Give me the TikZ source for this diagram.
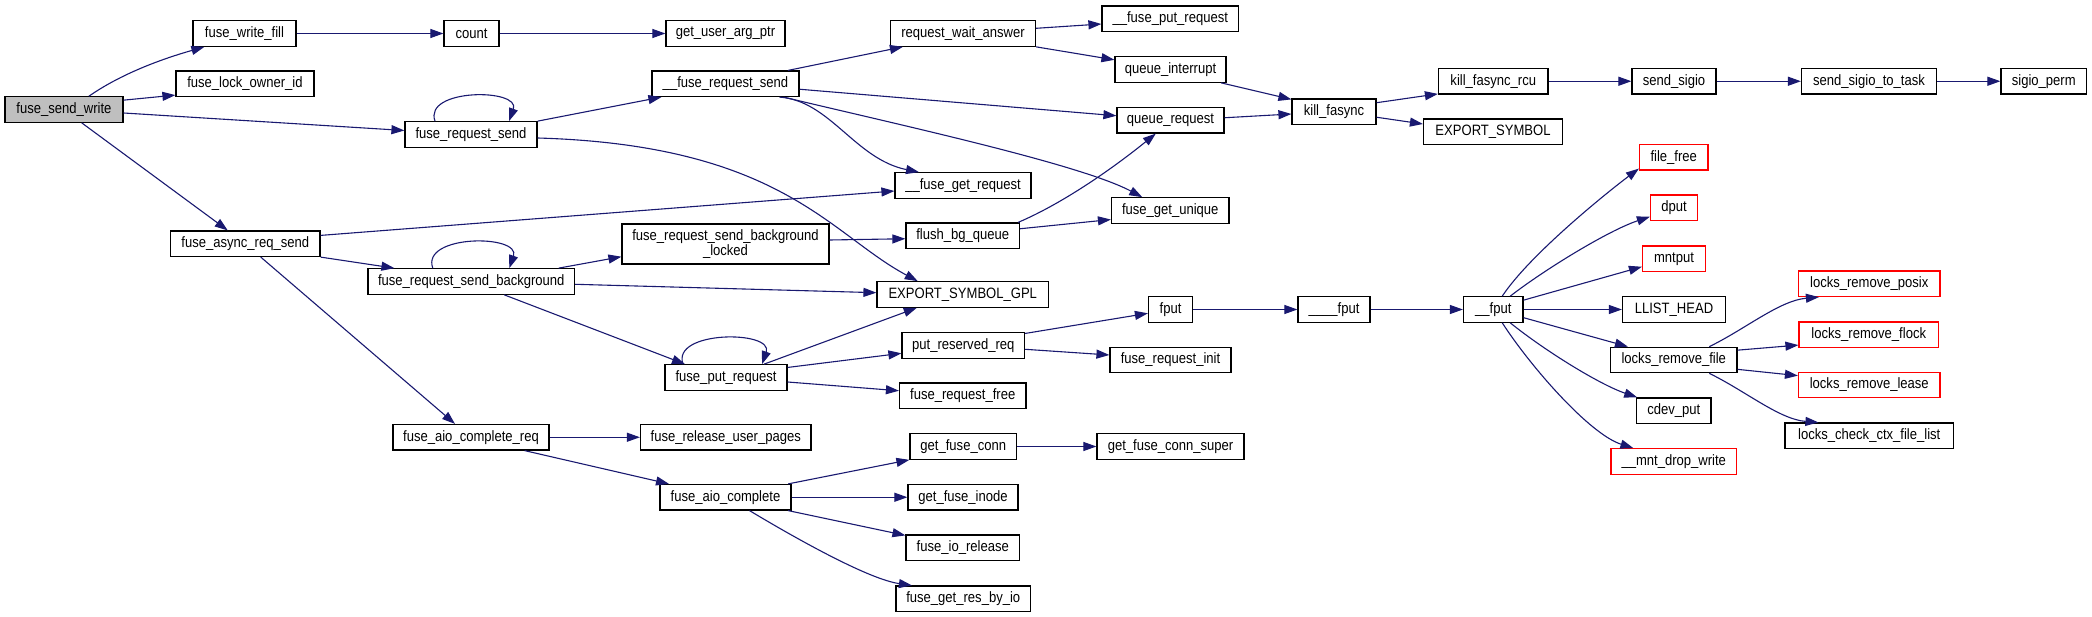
\documentclass[tikz,border=0pt]{standalone}
\usepackage{fontspec}
\setmainfont{Liberation Sans}
\usetikzlibrary{arrows.meta}
\definecolor{edgec}{HTML}{191970}
\definecolor{grayfill}{HTML}{BFBFBF}
\newcommand\tx[1]{\scalebox{0.87}[1]{#1}}
\tikzset{
 box/.style={draw=black, line width=1.2pt, fill=white, minimum height=25.5pt, inner sep=0pt, font=\fontsize{15}{14.5}\selectfont},
 redbox/.style={box, draw=red},
 edge/.style={draw=edgec, line width=1.1pt, -{Triangle[length=13pt,width=9pt]}},
}
\begin{document}
\begin{tikzpicture}[x=1pt,y=-1pt]
\useasboundingbox (0,0) rectangle (2092,617);
% column 1
\node[box, fill=grayfill, minimum width=118pt] (fsw) at (64,109.5) {\tx{fuse\_send\_write}};
% column 2
\node[box, minimum width=103pt] (fwf) at (244.5,33.5) {\tx{fuse\_write\_fill}};
\node[box, minimum width=138pt] (flo) at (245,83.75) {\tx{fuse\_lock\_owner\_id}};
\node[box, minimum width=149.5pt] (fars) at (245.25,243.75) {\tx{fuse\_async\_req\_send}};
% column 3
\node[box, minimum width=55pt] (cnt) at (471.5,33.5) {\tx{count}};
\node[box, minimum width=132pt] (frs) at (471,134.5) {\tx{fuse\_request\_send}};
\node[box, minimum width=206.5pt] (frsb) at (471.25,281.5) {\tx{fuse\_request\_send\_background}};
\node[box, minimum width=156pt] (facr) at (471,437.25) {\tx{fuse\_aio\_complete\_req}};
% column 4
\node[box, minimum width=119pt] (guap) at (725.5,33.5) {\tx{get\_user\_arg\_ptr}};
\node[box, minimum width=147pt] (ufrs) at (725.5,83.75) {\tx{\_\_fuse\_request\_send}};
\node[box, minimum width=207pt, minimum height=40pt, align=center] (frsbl) at (725.5,244) {\tx{fuse\_request\_send\_background}\\\tx{\_locked}};
\node[box, minimum width=122pt] (fpr) at (726,377.5) {\tx{fuse\_put\_request}};
\node[box, minimum width=170.5pt] (frup) at (725.75,437.25) {\tx{fuse\_release\_user\_pages}};
\node[box, minimum width=131pt] (fac) at (725.5,497.25) {\tx{fuse\_aio\_complete}};
% column 5
\node[box, minimum width=145pt] (rwa) at (963,33.5) {\tx{request\_wait\_answer}};
\node[box, minimum width=136pt] (ufgr) at (963,185.5) {\tx{\_\_fuse\_get\_request}};
\node[box, minimum width=113.5pt] (fbq) at (962.75,235.75) {\tx{flush\_bg\_queue}};
\node[box, minimum width=171.5pt] (esg) at (962.75,294.5) {\tx{EXPORT\_SYMBOL\_GPL}};
\node[box, minimum width=122.5pt] (prr) at (963.25,345.5) {\tx{put\_reserved\_req}};
\node[box, minimum width=126.5pt] (frf) at (962.75,395.75) {\tx{fuse\_request\_free}};
\node[box, minimum width=106.5pt] (gfc) at (963.25,446.5) {\tx{get\_fuse\_conn}};
\node[box, minimum width=110pt] (gfi) at (963,497.25) {\tx{get\_fuse\_inode}};
\node[box, minimum width=113.5pt] (fior) at (962.75,547.75) {\tx{fuse\_io\_release}};
\node[box, minimum width=134.5pt] (fgrb) at (963.25,598.75) {\tx{fuse\_get\_res\_by\_io}};
% column 6
\node[box, minimum width=136.5pt] (ufpr) at (1170.25,18.75) {\tx{\_\_fuse\_put\_request}};
\node[box, minimum width=111pt] (qi) at (1170.5,69.5) {\tx{queue\_interrupt}};
\node[box, minimum width=107pt] (qr) at (1170.5,120.25) {\tx{queue\_request}};
\node[box, minimum width=117.5pt] (fgu) at (1170.25,210.5) {\tx{fuse\_get\_unique}};
\node[box, minimum width=44pt] (fput) at (1170.5,309.5) {\tx{fput}};
\node[box, minimum width=121pt] (fri) at (1170.5,360) {\tx{fuse\_request\_init}};
\node[box, minimum width=147pt] (gfcs) at (1170.5,446.5) {\tx{get\_fuse\_conn\_super}};
% column 7
\node[box, minimum width=84pt] (kf) at (1334,111.75) {\tx{kill\_fasync}};
\node[box, minimum width=72pt] (fput4) at (1334,309.5) {\tx{\_\_\_\_fput}};
% column 8
\node[box, minimum width=109.5pt] (kfr) at (1493.25,81.25) {\tx{kill\_fasync\_rcu}};
\node[box, minimum width=139pt] (es) at (1493,131.75) {\tx{EXPORT\_SYMBOL}};
\node[box, minimum width=59.5pt] (fput2) at (1493.25,309.5) {\tx{\_\_fput}};
% column 9
\node[box, minimum width=84pt] (ss) at (1674,81.25) {\tx{send\_sigio}};
\node[redbox, minimum width=68.5pt] (ff) at (1673.75,157.25) {\tx{file\_free}};
\node[redbox, minimum width=47pt] (dput) at (1674,207.75) {\tx{dput}};
\node[redbox, minimum width=63pt] (mnt) at (1674,258.75) {\tx{mntput}};
\node[box, minimum width=103pt] (llh) at (1674,309.5) {\tx{LLIST\_HEAD}};
\node[box, minimum width=126.5pt] (lrf) at (1673.75,360) {\tx{locks\_remove\_file}};
\node[box, minimum width=74.5pt] (cdev) at (1673.75,410.75) {\tx{cdev\_put}};
\node[redbox, minimum width=125.5pt] (mdw) at (1673.75,461.5) {\tx{\_\_mnt\_drop\_write}};
% column 10
\node[box, minimum width=135pt] (ssst) at (1869,81.25) {\tx{send\_sigio\_to\_task}};
\node[redbox, minimum width=141.5pt] (lrp) at (1869.25,283.75) {\tx{locks\_remove\_posix}};
\node[redbox, minimum width=139.5pt] (lrfl) at (1868.75,334.75) {\tx{locks\_remove\_flock}};
\node[redbox, minimum width=141.5pt] (lrl) at (1869.25,385) {\tx{locks\_remove\_lease}};
\node[box, minimum width=168.5pt] (lccfl) at (1869.25,435.75) {\tx{locks\_check\_ctx\_file\_list}};
% column 11
\node[box, minimum width=85.5pt] (sp) at (2043.75,81.25) {\tx{sigio\_perm}};

% edges
\draw[edge] ([xshift=25pt]fsw.north) .. controls +(36,-25) and +(-35,10) .. ([xshift=12pt]fwf.south west);
\draw[edge] ([yshift=-4pt]fsw.north east) -- ([yshift=2pt]flo.south west);
\draw[edge] ([yshift=-3.5pt]fsw.east) -- ([yshift=4pt]frs.west);
\draw[edge] ([xshift=17.7pt]fsw.south) -- ([xshift=-17.5pt]fars.north);
\draw[edge] (fwf.east) -- (cnt.west);
\draw[edge] (cnt.east) -- (guap.west);
\draw[edge] ([xshift=-36pt]frs.north) .. controls +(-12,-33) and +(12,-33) .. ([xshift=38pt]frs.north);
\draw[edge] (frs.north east) -- ([xshift=10pt]ufrs.south west);
\draw[edge] ([yshift=-3.5pt]frs.east) .. controls +(243,7) and +(-88,-47) .. ([xshift=-45pt]esg.north);
\draw[edge] ([yshift=-5pt]fars.north east) -- ([yshift=-5.5pt]ufgr.west);
\draw[edge] (fars.south east) -- ([xshift=27pt]frsb.north west);
\draw[edge] ([xshift=15.5pt]fars.south) -- ([xshift=-16pt]facr.north);
\draw[edge] ([xshift=-38.5pt]frsb.north) .. controls +(-12,-34) and +(12,-34) .. ([xshift=38pt]frsb.north);
\draw[edge] ([xshift=-16.5pt]frsb.north east) -- ([yshift=-12.7pt]frsbl.west);
\draw[edge] ([yshift=-2.8pt]frsb.east) -- ([yshift=1.8pt]esg.west);
\draw[edge] ([xshift=33pt]frsb.south) -- ([xshift=-41pt]fpr.north);
\draw[edge] ([xshift=-43pt]fpr.north) .. controls +(-12,-34) and +(12,-34) .. ([xshift=36pt]fpr.north);
\draw[edge] ([xshift=38pt]fpr.north) -- ([xshift=-46pt]esg.south);
\draw[edge] ([yshift=-3.3pt]fpr.north east) -- ([yshift=-7.8pt]prr.west);
\draw[edge] ([yshift=-4.5pt]fpr.east) -- ([yshift=5pt]frf.west);
\draw[edge] ([yshift=-1.3pt]prr.north east) -- ([yshift=-3.8pt]fput.west);
\draw[edge] ([yshift=-3.8pt]prr.east) -- ([yshift=5pt]fri.west);
\draw[edge] (facr.east) -- (frup.west);
\draw[edge] ([xshift=53.6pt]facr.south) -- ([xshift=9.6pt]fac.north west);
\draw[edge] ([xshift=-3.5pt]fac.north east) -- (gfc.south west);
\draw[edge] (gfc.east) -- (gfcs.west);
\draw[edge] (fac.east) -- (gfi.west);
\draw[edge] ([xshift=-3.5pt]fac.south east) -- ([yshift=-1pt]fior.north west);
\draw[edge] ([xshift=24pt]fac.south) .. controls +(50,30) and +(-42.5,-6) .. ([xshift=16.5pt]fgrb.north west);
\draw[edge] ([xshift=-11.5pt]ufrs.north east) -- ([xshift=13pt]rwa.south west);
\draw[edge] ([yshift=-5.5pt]ufrs.east) -- ([yshift=4.5pt]qr.west);
\draw[edge] ([xshift=54pt]ufrs.south) .. controls +(50.5,3.5) and +(-64,-13) .. ([xshift=-44pt]ufgr.north);
\draw[edge] ([xshift=58pt]ufrs.south) .. controls +(117,28) and +(-62,-33) .. ([xshift=-28pt]fgu.north);
\draw[edge] ([yshift=5.2pt]rwa.east) -- ([yshift=-5.25pt]ufpr.west);
\draw[edge] (rwa.south east) -- ([yshift=-3.7pt]qi.north west);
\draw[edge] ([xshift=-5.5pt]qi.south east) -- ([yshift=-1pt]kf.north west);
\draw[edge] ([yshift=2.5pt]qr.east) -- ([yshift=-2.25pt]kf.west);
\draw[edge] ([xshift=-2pt]fbq.north east) .. controls +(42.5,-18) and +(-45.8,37) .. ([xshift=-14.7pt]qr.south);
\draw[edge] ([yshift=7pt]fbq.east) -- ([yshift=4.3pt]fgu.south west);
\draw[edge] ([yshift=4pt]frsbl.east) -- ([yshift=-3pt]fbq.west);
\draw[edge] ([yshift=-4.3pt]kf.north east) -- ([yshift=0.7pt]kfr.south west);
\draw[edge] ([yshift=-5.5pt]kf.east) -- ([yshift=7.75pt]es.west);
\draw[edge] (kfr.east) -- (ss.west);
\draw[edge] (ss.east) -- (ssst.west);
\draw[edge] (ssst.east) -- (sp.west);
\draw[edge] (fput.east) -- (fput4.west);
\draw[edge] (fput4.east) -- (fput2.west);
\draw[edge] ([xshift=9pt]fput2.north) .. controls +(27.75,-42) and +(-29.5,22) .. ([yshift=2pt]ff.south west);
\draw[edge] ([xshift=17pt]fput2.north) .. controls +(34.75,-27) and +(-40.5,13.25) .. ([yshift=-9pt]dput.west);
\draw[edge] ([yshift=-4pt]fput2.north east) -- ([yshift=-8pt]mnt.west);
\draw[edge] (fput2.east) -- (llh.west);
\draw[edge] ([yshift=-8.2pt]fput2.east) -- ([xshift=18pt]lrf.north west);
\draw[edge] ([xshift=17pt]fput2.south) .. controls +(34.75,28) and +(-37.8,-13) .. ([xshift=1.3pt]cdev.north west);
\draw[edge] ([xshift=9pt]fput2.south) .. controls +(27.75,43) and +(-44,-14) .. ([xshift=23pt]mdw.north west);
\draw[edge] ([xshift=35.5pt]lrf.north) .. controls +(36,-17.5) and +(-39.5,3.5) .. ([xshift=21pt]lrp.south west);
\draw[edge] ([yshift=-3.5pt]lrf.north east) -- ([yshift=3pt]lrfl.south west);
\draw[edge] ([yshift=4pt]lrf.south east) -- ([yshift=-4pt]lrl.north west);
\draw[edge] ([xshift=35.5pt]lrf.south) .. controls +(36,17.5) and +(-39,-3) .. ([xshift=34pt]lccfl.north west);
\end{tikzpicture}
\end{document}
